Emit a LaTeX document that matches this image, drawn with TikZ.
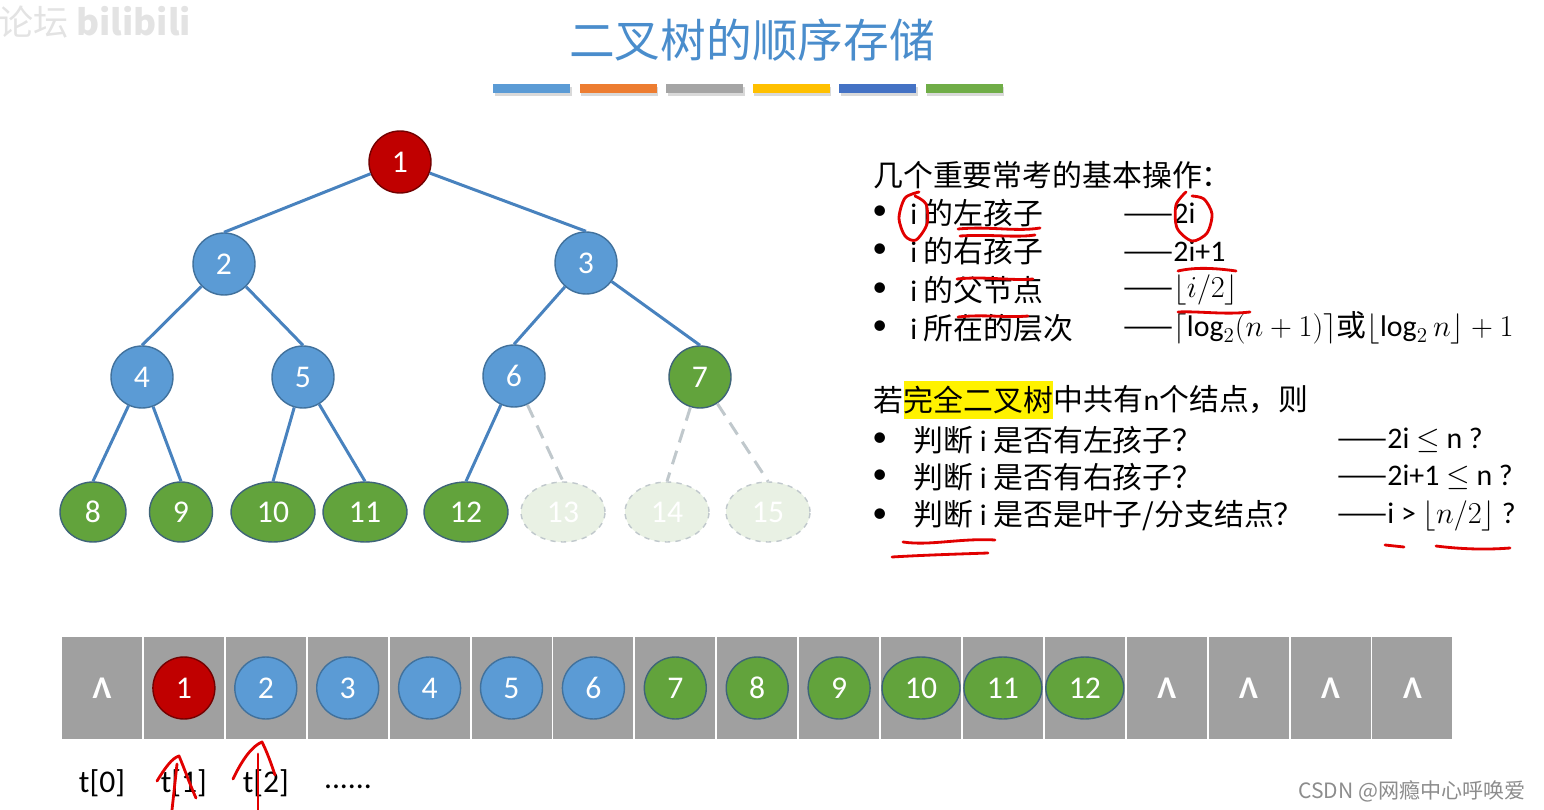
\documentclass[tikz,border=0pt]{standalone}
\usepackage{fontspec}
\setmainfont{Carlito}
\newfontfamily\cjk{Noto Sans CJK SC}
\newcommand{\zh}[1]{{\cjk #1}}
\usetikzlibrary{positioning, shadows, shapes.geometric}
\definecolor{nodeblue}{RGB}{91,155,213}
\definecolor{nodeblueline}{RGB}{65,113,156}
\definecolor{nodegreen}{RGB}{98,163,60}
\definecolor{nodegreenline}{RGB}{62,100,120}
\definecolor{nodered}{RGB}{192,0,0}
\definecolor{edgeblue}{RGB}{72,130,190}
\definecolor{ghostfill}{RGB}{233,241,228}
\definecolor{ghostline}{RGB}{192,200,204}
\definecolor{cellgrey}{RGB}{160,160,160}
\definecolor{titleblue}{RGB}{74,141,204}
\definecolor{inkred}{RGB}{225,0,0}
\definecolor{barA}{RGB}{91,155,213}
\definecolor{barB}{RGB}{237,125,49}
\definecolor{barC}{RGB}{165,165,165}
\definecolor{barD}{RGB}{255,192,0}
\definecolor{barE}{RGB}{68,114,196}
\definecolor{barF}{RGB}{112,173,71}
\tikzset{
  treenode/.style={circle, draw=nodeblueline, line width=0.8pt, fill=nodeblue, text=white,
    minimum size=1.24cm, inner sep=0pt, font=\fontsize{18}{20}\selectfont},
  rootnode/.style={treenode, fill=nodered, draw=nodered!60!black},
  greennode/.style={treenode, fill=nodegreen, draw=nodegreenline},
  leafnode/.style={greennode, ellipse, minimum width=1.68cm, minimum height=1.2cm},
  widenode/.style={greennode, ellipse, minimum width=1.56cm, minimum height=1.24cm},
  ghostnode/.style={leafnode, fill=ghostfill, draw=ghostline, dashed},
  treeedge/.style={edgeblue, line width=1.7pt},
  ghostedge/.style={ghostline, line width=1.7pt, dash pattern=on 8pt off 5pt},
  cell/.style={rectangle, fill=cellgrey, minimum width=1.6cm, minimum height=2.06cm, inner sep=0pt},
  hatmark/.style={text=white, font=\fontsize{18}{20}\selectfont\bfseries},
  idxlabel/.style={font=\fontsize{18}{20}\selectfont},
  txt/.style={anchor=west, inner sep=0pt, font=\fontsize{17}{20}\selectfont},
  ink/.style={draw=inkred, line width=1.6pt, line cap=round, line join=round},
}
\begin{document}
\begin{tikzpicture}[x=0.02cm, y=-0.02cm]
\useasboundingbox (0,0) rectangle (1544,810);

% watermarks
\node[anchor=west, text=black!11, font=\cjk\fontsize{20}{22}\selectfont] (wmark) at (-8,22) {论坛 \textbf{bilibili}};
\node[anchor=east, text=black!45, font=\cjk\fontsize{12}{14}\selectfont] (csdn) at (1532,791) {CSDN @网瘾中心呼唤爱};

% title and colour bars
\node[text=titleblue, font=\cjk\fontsize{26}{30}\selectfont] (title) at (752,40) {二叉树的顺序存储};
\foreach \c [count=\k from 0] in {barA,barB,barC,barD,barE,barF}
  \fill[\c, drop shadow={shadow xshift=1pt, shadow yshift=-1.5pt, opacity=0.3}]
    ({493+86.5*\k},84) rectangle ({570+86.5*\k},93);

% tree
\node[rootnode] (n1) at (400,162) {1};
\node[treenode] (n2) at (224,264) {2};
\node[treenode] (n3) at (586,263) {3};
\node[treenode] (n4) at (142,377) {4};
\node[treenode] (n5) at (303,377) {5};
\node[treenode] (n6) at (514,376) {6};
\node[greennode] (n7) at (700,377) {7};
\node[leafnode, minimum width=1.32cm] (n8) at (93,512) {8};
\node[leafnode, minimum width=1.26cm] (n9) at (181,512) {9};
\node[leafnode] (n10) at (273,512) {10};
\node[leafnode] (n11) at (365,512) {11};
\node[leafnode] (n12) at (466,512) {12};
\node[ghostnode] (n13) at (563,512) {13};
\node[ghostnode] (n14) at (667,512) {14};
\node[ghostnode] (n15) at (768,512) {15};

\foreach \p/\q in {1/2,1/3,2/4,2/5,3/6,3/7,4/8,4/9,5/10,5/11,6/12}
  \draw[treeedge] (n\p) -- (n\q.north);
\foreach \p/\q in {6/13,7/14,7/15}
  \draw[ghostedge] (n\p) -- (n\q.north);

% operations
\node[txt] (ophead) at (873,175) {\zh{几个重要常考的基本操作：}};
\foreach \y [count=\j] in {213,251,290,328}
  \node[txt] (opdot\j) at (872,\y) {\textbullet};
\node[txt] (opl1) at (910,213) {i \zh{的左孩子}};
\node[txt] (opl2) at (910,251) {i \zh{的右孩子}};
\node[txt] (opl3) at (910,290) {i \zh{的父节点}};
\node[txt] (opl4) at (910,328) {i \zh{所在的层次}};
\node[txt] (opr1) at (1123,213) {\zh{——}2i};
\node[txt] (opr2) at (1123,251) {\zh{——}2i+1};
\node[txt] (opr3) at (1123,290) {\zh{——}$\lfloor i/2\rfloor$};
\node[txt] (opr4) at (1123,328) {\zh{——}$\lceil\log_2(n+1)\rceil$\zh{或}$\lfloor\log_2 n\rfloor+1$};

% complete binary tree
\node[txt] (cbhead) at (873,400) {\zh{若}};
\node[txt, fill=yellow, inner ysep=3pt, right=0pt of cbhead] (cbmark) {\zh{完全二叉树}};
\node[txt, right=0pt of cbmark] (cbrest) {\zh{中共有}n\zh{个结点，则}};
\foreach \y [count=\j] in {440,477,516}
  \node[txt] (cbdot\j) at (872,\y) {\textbullet};
\node[txt] (cbl1) at (913,440) {\zh{判断} i \zh{是否有左孩子？}};
\node[txt] (cbl2) at (913,477) {\zh{判断} i \zh{是否有右孩子？}};
\node[txt] (cbl3) at (913,516) {\zh{判断} i \zh{是否是叶子/分支结点？}};
\node[txt] (cbr1) at (1337,440) {\zh{——}2i $\leq$ n ?};
\node[txt] (cbr2) at (1337,477) {\zh{——}2i+1 $\leq$ n ?};
\node[txt] (cbr3) at (1337,516) {\zh{——}i > $\lfloor n/2\rfloor$ ?};

% array
\foreach \i in {0,...,16}
  \node[cell] (c\i) at ({102+81.9*\i},688) {};
\foreach \j in {0,13,14,15,16}
  \node[hatmark] (hat\j) at (c\j) {Λ};
\foreach \j/\s in {1/rootnode,2/treenode,3/treenode,4/treenode,5/treenode,6/treenode,7/greennode,8/greennode,9/greennode,10/widenode,11/widenode,12/widenode}
  \node[\s] (a\j) at (c\j) {\j};
\foreach \j in {0,1,2}
  \node[idxlabel] (t\j) at ({102+81.9*\j},783) {t[\j]};
\node[idxlabel] (tdots) at (348,787) {......};

% red pen marks
\draw[ink] plot[smooth] coordinates {(919,192) (905,198) (899,218) (905,236) (916,240) (927,224) (926,204) (915,196)};
\draw[ink] plot[smooth] coordinates {(1186,192) (1176,205) (1177,228) (1192,241) (1207,233) (1212,214) (1204,199) (1192,196)};
\draw[ink] (958,229) .. controls (990,226) and (1015,232) .. (1040,228);
\draw[ink] (960,236) .. controls (990,234) and (1015,238) .. (1035,235);
\draw[ink] (957,279) .. controls (985,276) and (1010,281) .. (1033,279);
\draw[ink] (958,317) .. controls (985,314) and (1005,318) .. (1028,316);
\draw[ink] (1178,271) .. controls (1195,267) and (1215,268) .. (1236,271);
\draw[ink] (1178,312) .. controls (1200,311) and (1225,315) .. (1250,312);
\draw[ink] (903,542) .. controls (930,546) and (960,538) .. (995,540);
\draw[ink] (892,557) .. controls (925,555) and (960,554) .. (988,553);
\draw[ink] (1385,545) -- (1404,547);
\draw[ink] (1436,546) .. controls (1460,549) and (1485,550) .. (1510,548);
\draw[ink] (172,810) -- (177,764);
\draw[ink] (157,781) .. controls (165,768) and (172,758) .. (179,756) .. controls (185,770) and (190,785) .. (196,798);
\draw[ink] (258,810) -- (258,754);
\draw[ink] (233,779) .. controls (242,760) and (252,746) .. (262,742) .. controls (267,752) and (271,763) .. (275,775);
\end{tikzpicture}
\end{document}
